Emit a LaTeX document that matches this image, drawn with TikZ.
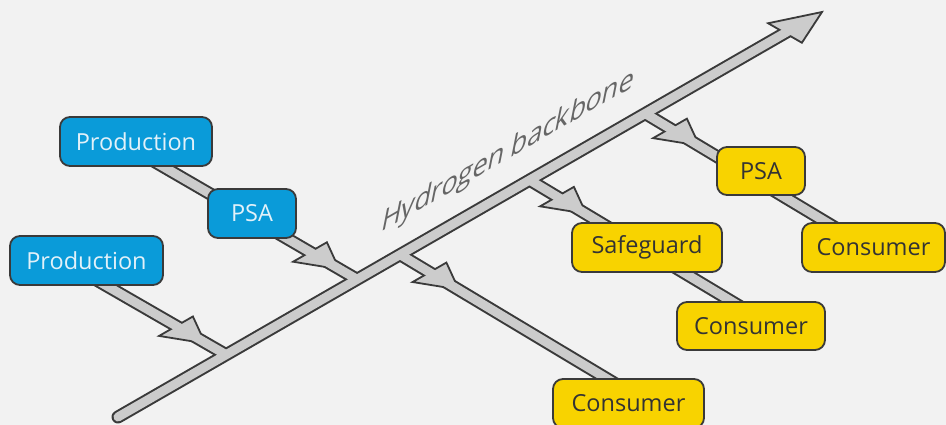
\documentclass[tikz,border=0pt]{standalone}
\usepackage{fontspec}
\setmainfont{Open Sans}
\usetikzlibrary{calc}
\definecolor{bgc}{HTML}{F2F2F2}
\definecolor{edgec}{HTML}{3A3A3A}
\definecolor{pipec}{HTML}{CCCCCC}
\definecolor{bluec}{HTML}{0A9BD9}
\definecolor{bluetext}{HTML}{E2F1F9}
\definecolor{yelc}{HTML}{F8D300}
\definecolor{yeltext}{HTML}{333333}
\definecolor{bbtextc}{HTML}{666666}
\pgfdeclarelayer{bg}
\pgfdeclarelayer{lout}
\pgfdeclarelayer{lhead}
\pgfdeclarelayer{lin}
\pgfsetlayers{bg,lout,lhead,lin,main}
\tikzset{
  box/.style={draw=edgec, line width=1.8pt, rounded corners=10pt, minimum height=49pt, inner sep=0pt, font=\fontsize{23.5}{26}\selectfont},
  bluebox/.style={box, fill=bluec, text=bluetext},
  yelbox/.style={box, fill=yelc, text=yeltext},
  pipeout/.style={draw=edgec, line width=13pt},
  pipein/.style={draw=pipec, line width=9pt},
  headst/.style={draw=edgec, fill=pipec, line width=1.8pt, line join=miter},
  bbtext/.style={text=bbtextc, font=\fontsize{31}{33}\selectfont, inner sep=0pt}
}
\newcommand\pipeseg[3][]{%
  \begin{pgfonlayer}{lout}\draw[pipeout,#1] #2 -- #3;\end{pgfonlayer}%
  \begin{pgfonlayer}{lin}\draw[pipein,#1] #2 -- #3;\end{pgfonlayer}}
\newcommand\branchhead[1]{%
  \begin{pgfonlayer}{lhead}\filldraw[headst] ($(#1)+19.5*(0.8667,-0.4988)$) -- ($(#1)+34*(0.862,0.507)$) -- ($(#1)-19.5*(0.8667,-0.4988)$) -- cycle;\end{pgfonlayer}}
\begin{document}
\begin{tikzpicture}[x=1pt,y=-1pt]
\begin{pgfonlayer}{bg}
\fill[bgc] (0,0) rectangle (946,425);
\end{pgfonlayer}
\useasboundingbox (0,0) rectangle (946,425);

% nodes
\node[bluebox, minimum width=152pt] (prod1) at (136,141.5) {Production};
\node[bluebox, minimum width=88pt] (psab) at (252,213.5) {PSA};
\node[bluebox, minimum width=153pt] (prod2) at (86.5,260.5) {Production};
\node[yelbox, minimum width=150pt] (safe) at (647,247.5) {Safeguard};
\node[yelbox, minimum width=88pt, minimum height=48pt] (psay) at (761,171) {PSA};
\node[yelbox, minimum width=143pt] (consr) at (873.5,247.5) {Consumer};
\node[yelbox, minimum width=148pt, minimum height=48pt] (consm) at (751,326) {Consumer};
\node[yelbox, minimum width=151pt] (consb) at (628.5,403.5) {Consumer};

\node[bbtext, anchor=base west, cm={0.866,0.5,0.2,1,(0,0)}] (bbt) at (380,233) {Hydrogen backbone};

% backbone
\coordinate (tail) at (118,417);
\coordinate (tipbase) at (785,33);
\coordinate (tip) at (822,12);
\coordinate (tipin) at ($(tipbase)+6*(0.8667,-0.4988)$);
\pipeseg[line cap=round]{(tail)}{(tipin)}
\begin{pgfonlayer}{lhead}
\filldraw[headst] ($(tipbase)+19.5*(0.866,0.5)$) -- (tip) -- ($(tipbase)-19.5*(0.866,0.5)$) -- cycle;
\end{pgfonlayer}

% junctions
\coordinate (J1) at (225.7,354.5);
\coordinate (J2) at (357,279.3);
\coordinate (J3) at (400,254.6);
\coordinate (J4) at (529.6,180.1);
\coordinate (J5) at (645.3,113.6);

% points inside nodes
\coordinate (p1o) at ($(prod1.center)+(4,11.7)$);
\coordinate (psabo) at ($(psab.center)+(0,4.7)$);
\coordinate (p2o) at ($(prod2.center)+(-6.5,10)$);
\coordinate (consbo) at ($(consb.center)+(11.5,-5)$);
\coordinate (safeo) at ($(safe.center)+(0,3.1)$);
\coordinate (consmo) at ($(consm.center)+(9,-7.6)$);
\coordinate (psayo) at ($(psay.center)+(0,12)$);
\coordinate (consro) at ($(consr.center)+(-23.5,-11)$);

% branches
\pipeseg{(p1o)}{(psabo)}
\pipeseg{(psabo)}{(J2)}
\pipeseg{(p2o)}{(J1)}
\pipeseg{(J3)}{(consbo)}
\pipeseg{(J4)}{(safeo)}
\pipeseg{(safeo)}{(consmo)}
\pipeseg{(J5)}{(psayo)}
\pipeseg{(psayo)}{(consro)}

% arrowheads on branches
\coordinate (A1) at (176,326.2);
\coordinate (A2) at (310,252);
\coordinate (A3) at (429.5,272.3);
\coordinate (A4) at (557,196.6);
\coordinate (A5) at (670,128.4);
\branchhead{A1}
\branchhead{A2}
\branchhead{A3}
\branchhead{A4}
\branchhead{A5}
\end{tikzpicture}
\end{document}
